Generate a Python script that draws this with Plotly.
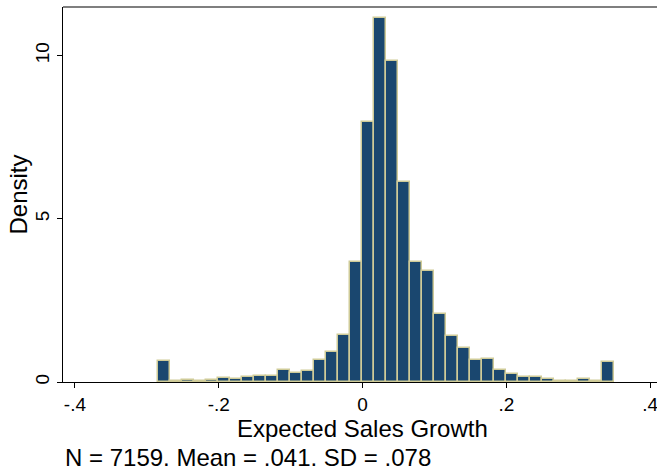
"""
Histogram of expected sales growth (Stata-style density histogram)
"""

import plotly.graph_objects as go

# histogram bins: first edge, bin width and density in each of the 38 bins
bin_start = -0.284
bin_width = 0.01668
density = [
    0.63, 0.02, 0.06, 0.03, 0.06, 0.11, 0.10, 0.14, 0.17, 0.19,
    0.36, 0.27, 0.34, 0.66, 0.91, 1.43, 3.67, 7.96, 11.15, 9.85,
    6.12, 3.67, 3.39, 2.07, 1.42, 1.03, 0.66, 0.70, 0.38, 0.24,
    0.16, 0.16, 0.08, 0.04, 0.04, 0.08, 0.03, 0.62,
]

x_ticks = [-0.4, -0.2, 0, 0.2, 0.4]
x_tick_labels = ["-.4", "-.2", "0", ".2", ".4"]
y_ticks = [0, 5, 10]
y_tick_labels = ["0", "5", "10"]

x_title = "Expected Sales Growth"
y_title = "Density"
note_text = "N = 7159. Mean = .041. SD = .078"

FONT = "Liberation Sans, Arial, Helvetica, sans-serif"
FILL = "#1a476f"
OUTLINE = "#cfcb98"

centers = [bin_start + bin_width * (i + 0.5) for i in range(len(density))]

fig = go.Figure(go.Bar(
    x=centers, y=density,
    width=bin_width,
    marker=dict(color=FILL, line=dict(color=OUTLINE, width=1.5)),
    hoverinfo="x+y",
))

fig.update_layout(
    width=657, height=471,
    margin=dict(l=63, r=0, t=7, b=89, autoexpand=False),
    plot_bgcolor="white", paper_bgcolor="white",
    showlegend=False,
    bargap=0,
    font=dict(family=FONT, color="black"),
    xaxis=dict(
        range=[-0.4166, 0.4096],
        tickvals=x_ticks, ticktext=x_tick_labels,
        ticks="outside", ticklen=5, tickcolor="black", tickwidth=1.2,
        tickfont=dict(size=19), ticklabeloverflow="allow",
        showline=True, linecolor="black", linewidth=1.2,
        showgrid=False, zeroline=False, automargin=False,
    ),
    yaxis=dict(
        range=[0, 11.49],
        tickvals=y_ticks, ticktext=y_tick_labels,
        tickangle=-90,
        ticks="outside", ticklen=5, tickcolor="black", tickwidth=1.2,
        tickfont=dict(size=19),
        showline=True, linecolor="black", linewidth=1.2,
        showgrid=False, zeroline=False, automargin=False,
    ),
)

# grey frame line along the top of the plot region
fig.add_shape(type="line", xref="paper", yref="paper",
              x0=0, x1=1, y0=1, y1=1,
              line=dict(color="#7f7f7f", width=2))

# axis titles and note
fig.add_annotation(
    text=x_title, xref="paper", yref="paper",
    x=(362 - 63) / 594, y=-46 / 375, xanchor="center", yanchor="middle",
    showarrow=False, font=dict(size=24),
)
fig.add_annotation(
    text=y_title, xref="paper", yref="paper", textangle=-90,
    x=-45 / 594, y=0.5, xanchor="center", yanchor="middle",
    showarrow=False, font=dict(size=24),
)
fig.add_annotation(
    text=note_text, xref="paper", yref="paper",
    x=0.0, y=-75 / 375, xanchor="left", yanchor="middle",
    showarrow=False, font=dict(size=24),
)

# drop the page's default body margin so the figure sits at the window corner
fig.write_html("out.html", config={"displayModeBar": False},
               post_script="document.body.style.margin = '0';")
